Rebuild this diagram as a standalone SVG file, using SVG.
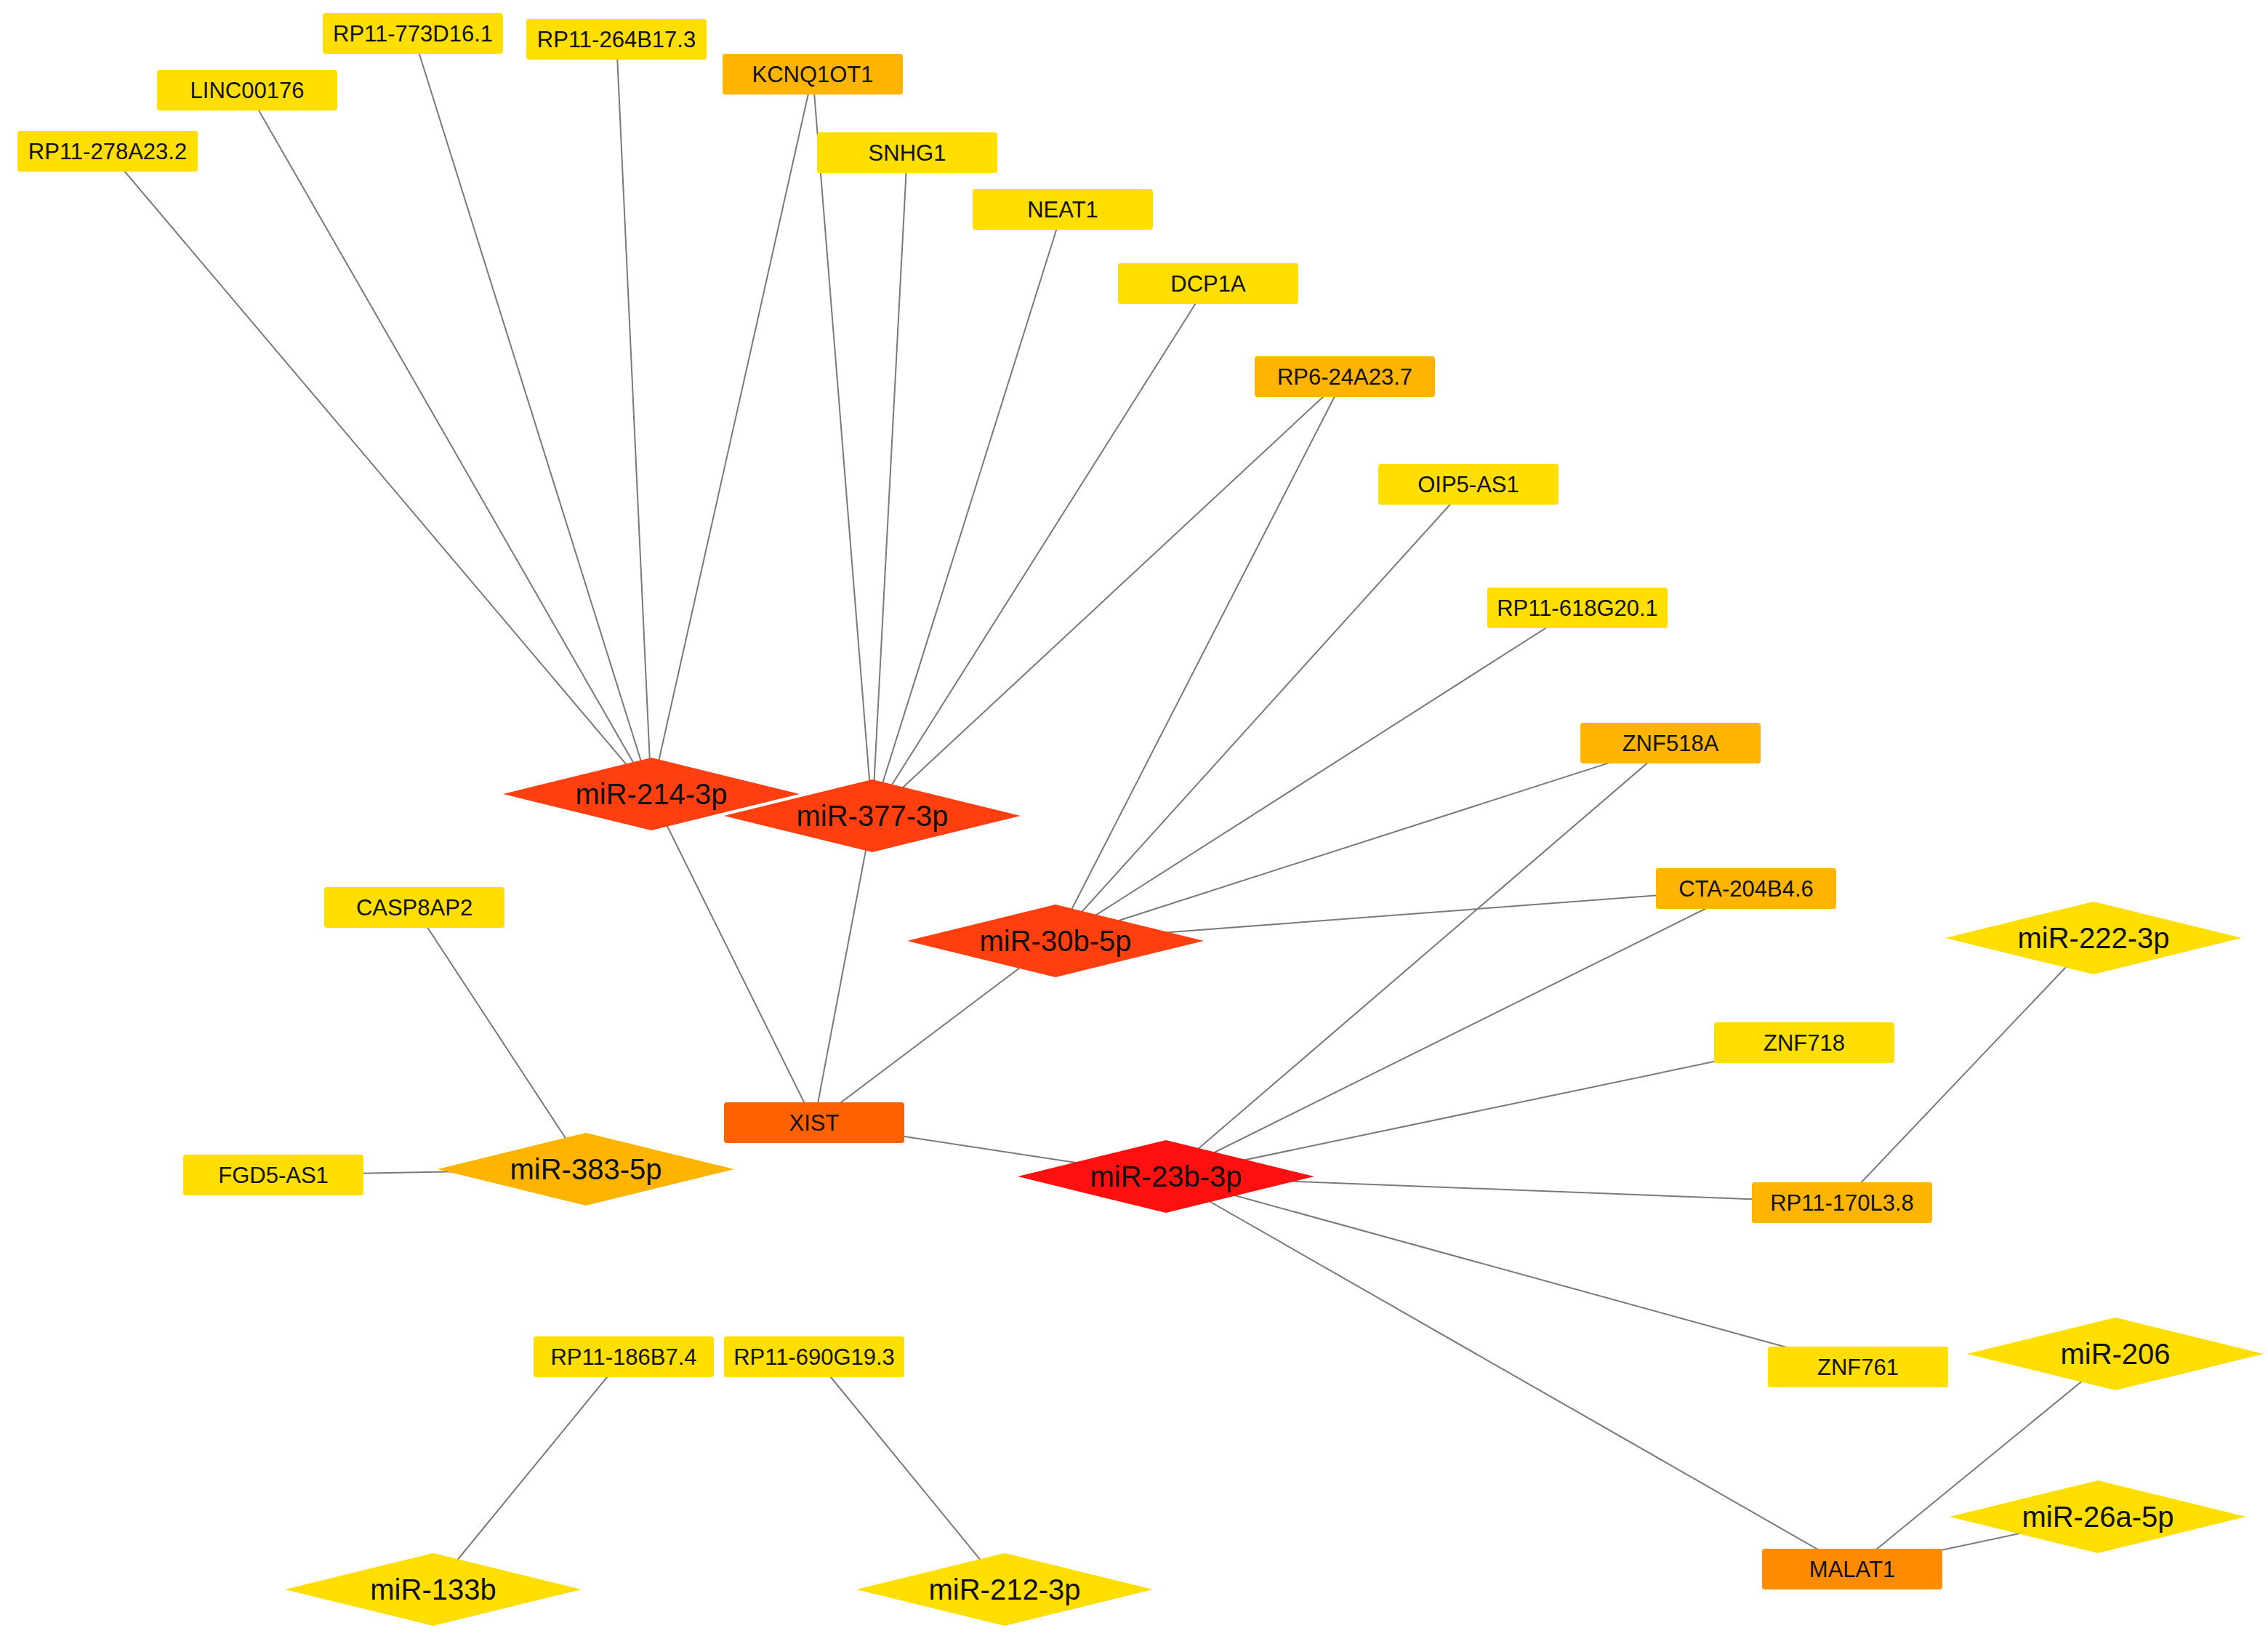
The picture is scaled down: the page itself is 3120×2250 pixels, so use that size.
<svg xmlns="http://www.w3.org/2000/svg" width="3120" height="2250" viewBox="0 0 3120 2250">
<style>
.e{stroke:#7a7a7a;stroke-width:2;fill:none}
text{font-family:"Liberation Sans",Arial,sans-serif;text-anchor:middle;dominant-baseline:central;fill:#111}
.r text{font-size:31px}
.d text{font-size:40px}
.y{fill:#FFDE00}.o{fill:#FFB400}.m{fill:#FF8C00}.x{fill:#FF6000}.dr{fill:#FF3F10}.rd{fill:#FF1010}
</style>
<defs>
<rect id="R" x="-124" y="-28" width="248" height="56" rx="4"/>
<polygon id="D" points="-204,0 0,-50 204,0 0,50"/>
</defs>
<rect width="3120" height="2250" fill="#fff"/>
<g id="edges">
<line class="e" x1="896" y1="1092" x2="148" y2="208"/>
<line class="e" x1="896" y1="1092" x2="340" y2="124"/>
<line class="e" x1="896" y1="1092" x2="568" y2="46"/>
<line class="e" x1="896" y1="1092" x2="848" y2="54"/>
<line class="e" x1="896" y1="1092" x2="1118" y2="102"/>
<line class="e" x1="896" y1="1092" x2="1120" y2="1544"/>
<line class="e" x1="1200" y1="1122" x2="1118" y2="102"/>
<line class="e" x1="1200" y1="1122" x2="1248" y2="210"/>
<line class="e" x1="1200" y1="1122" x2="1462" y2="288"/>
<line class="e" x1="1200" y1="1122" x2="1662" y2="390"/>
<line class="e" x1="1200" y1="1122" x2="1850" y2="518"/>
<line class="e" x1="1200" y1="1122" x2="1120" y2="1544"/>
<line class="e" x1="1452" y1="1294" x2="1850" y2="518"/>
<line class="e" x1="1452" y1="1294" x2="2020" y2="666"/>
<line class="e" x1="1452" y1="1294" x2="2170" y2="836"/>
<line class="e" x1="1452" y1="1294" x2="2298" y2="1022"/>
<line class="e" x1="1452" y1="1294" x2="2402" y2="1222"/>
<line class="e" x1="1452" y1="1294" x2="1120" y2="1544"/>
<line class="e" x1="1604" y1="1618" x2="1120" y2="1544"/>
<line class="e" x1="1604" y1="1618" x2="2298" y2="1022"/>
<line class="e" x1="1604" y1="1618" x2="2402" y2="1222"/>
<line class="e" x1="1604" y1="1618" x2="2482" y2="1434"/>
<line class="e" x1="1604" y1="1618" x2="2534" y2="1654"/>
<line class="e" x1="1604" y1="1618" x2="2556" y2="1880"/>
<line class="e" x1="1604" y1="1618" x2="2548" y2="2158"/>
<line class="e" x1="806" y1="1608" x2="570" y2="1248"/>
<line class="e" x1="806" y1="1608" x2="376" y2="1616"/>
<line class="e" x1="2880" y1="1290" x2="2534" y2="1654"/>
<line class="e" x1="2910" y1="1862" x2="2548" y2="2158"/>
<line class="e" x1="2886" y1="2086" x2="2548" y2="2158"/>
<line class="e" x1="596" y1="2186" x2="858" y2="1866"/>
<line class="e" x1="1382" y1="2186" x2="1120" y2="1866"/>
</g>
<g id="RP11-278A23.2" class="r" transform="translate(148,208)"><use href="#R" class="y"/><text>RP11-278A23.2</text></g>
<g id="LINC00176" class="r" transform="translate(340,124)"><use href="#R" class="y"/><text>LINC00176</text></g>
<g id="RP11-773D16.1" class="r" transform="translate(568,46)"><use href="#R" class="y"/><text>RP11-773D16.1</text></g>
<g id="RP11-264B17.3" class="r" transform="translate(848,54)"><use href="#R" class="y"/><text>RP11-264B17.3</text></g>
<g id="KCNQ1OT1" class="r" transform="translate(1118,102)"><use href="#R" class="o"/><text>KCNQ1OT1</text></g>
<g id="SNHG1" class="r" transform="translate(1248,210)"><use href="#R" class="y"/><text>SNHG1</text></g>
<g id="NEAT1" class="r" transform="translate(1462,288)"><use href="#R" class="y"/><text>NEAT1</text></g>
<g id="DCP1A" class="r" transform="translate(1662,390)"><use href="#R" class="y"/><text>DCP1A</text></g>
<g id="RP6-24A23.7" class="r" transform="translate(1850,518)"><use href="#R" class="o"/><text>RP6-24A23.7</text></g>
<g id="OIP5-AS1" class="r" transform="translate(2020,666)"><use href="#R" class="y"/><text>OIP5-AS1</text></g>
<g id="RP11-618G20.1" class="r" transform="translate(2170,836)"><use href="#R" class="y"/><text>RP11-618G20.1</text></g>
<g id="ZNF518A" class="r" transform="translate(2298,1022)"><use href="#R" class="o"/><text>ZNF518A</text></g>
<g id="CTA-204B4.6" class="r" transform="translate(2402,1222)"><use href="#R" class="o"/><text>CTA-204B4.6</text></g>
<g id="ZNF718" class="r" transform="translate(2482,1434)"><use href="#R" class="y"/><text>ZNF718</text></g>
<g id="RP11-170L3.8" class="r" transform="translate(2534,1654)"><use href="#R" class="o"/><text>RP11-170L3.8</text></g>
<g id="ZNF761" class="r" transform="translate(2556,1880)"><use href="#R" class="y"/><text>ZNF761</text></g>
<g id="MALAT1" class="r" transform="translate(2548,2158)"><use href="#R" class="m"/><text>MALAT1</text></g>
<g id="CASP8AP2" class="r" transform="translate(570,1248)"><use href="#R" class="y"/><text>CASP8AP2</text></g>
<g id="FGD5-AS1" class="r" transform="translate(376,1616)"><use href="#R" class="y"/><text>FGD5-AS1</text></g>
<g id="XIST" class="r" transform="translate(1120,1544)"><use href="#R" class="x"/><text>XIST</text></g>
<g id="RP11-186B7.4" class="r" transform="translate(858,1866)"><use href="#R" class="y"/><text>RP11-186B7.4</text></g>
<g id="RP11-690G19.3" class="r" transform="translate(1120,1866)"><use href="#R" class="y"/><text>RP11-690G19.3</text></g>
<g id="miR-214-3p" class="d" transform="translate(896,1092)"><use href="#D" class="dr"/><text>miR-214-3p</text></g>
<g id="miR-377-3p" class="d" transform="translate(1200,1122)"><use href="#D" class="dr"/><text>miR-377-3p</text></g>
<g id="miR-30b-5p" class="d" transform="translate(1452,1294)"><use href="#D" class="dr"/><text>miR-30b-5p</text></g>
<g id="miR-23b-3p" class="d" transform="translate(1604,1618)"><use href="#D" class="rd"/><text>miR-23b-3p</text></g>
<g id="miR-383-5p" class="d" transform="translate(806,1608)"><use href="#D" class="o"/><text>miR-383-5p</text></g>
<g id="miR-222-3p" class="d" transform="translate(2880,1290)"><use href="#D" class="y"/><text>miR-222-3p</text></g>
<g id="miR-206" class="d" transform="translate(2910,1862)"><use href="#D" class="y"/><text>miR-206</text></g>
<g id="miR-26a-5p" class="d" transform="translate(2886,2086)"><use href="#D" class="y"/><text>miR-26a-5p</text></g>
<g id="miR-133b" class="d" transform="translate(596,2186)"><use href="#D" class="y"/><text>miR-133b</text></g>
<g id="miR-212-3p" class="d" transform="translate(1382,2186)"><use href="#D" class="y"/><text>miR-212-3p</text></g>
</svg>
